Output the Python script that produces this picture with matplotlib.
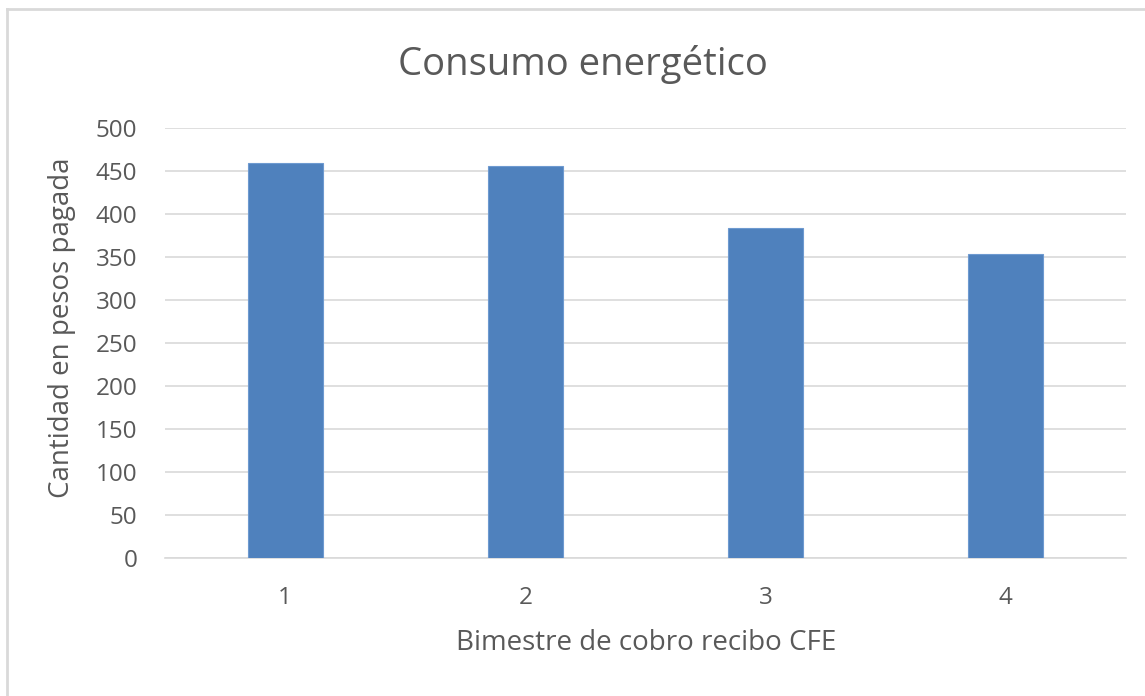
import matplotlib
matplotlib.use("Agg")
import matplotlib.pyplot as plt
from matplotlib.lines import Line2D

categories = ["1", "2", "3", "4"]
values = [459, 456, 384, 354]
yticks = [0, 50, 100, 150, 200, 250, 300, 350, 400, 450, 500]

plt.rcParams['font.family'] = ['Open Sans', 'DejaVu Sans']
txt = '#595959'

W, H = 1145, 696
fig = plt.figure(figsize=(W/100, H/100), dpi=100)
ax = fig.add_axes([165/W, 1-558/H, (1126-165)/W, (558-128)/H])

x = list(range(len(categories)))
ax.bar(x, values, width=75/240, color='#4F81BD', edgecolor='#6E9AD0', linewidth=0.8, zorder=3)
ax.set_xlim(-0.5, len(categories)-0.5)
ax.set_ylim(0, 500)
ax.set_yticks(yticks)
ax.set_xticks(x)
ax.set_xticklabels(categories)
ax.grid(axis='y', color='#D9D9D9', linewidth=1.2, zorder=0)
for s in ['top', 'right', 'left']:
    ax.spines[s].set_visible(False)
ax.spines['bottom'].set_color('#D9D9D9')
ax.spines['bottom'].set_linewidth(1.2)
ax.tick_params(axis='both', length=0, colors=txt, labelsize=17.5)
ax.tick_params(axis='x', pad=20)
ax.tick_params(axis='y', pad=20)

fig.text(646/W, 1-643/H, 'Bimestre de cobro recibo CFE', color=txt, fontsize=20, ha='center', va='center')
fig.text(62/W, 1-328/H, 'Cantidad en pesos pagada', color=txt, fontsize=20, ha='center', va='center', rotation=90)
fig.text(583/W, 1-64/H, 'Consumo energético', color=txt, fontsize=27.5, ha='center', va='center')

# outer frame (left and top visible)
fig.add_artist(Line2D([7/W, 7/W], [0, 1-9/H], transform=fig.transFigure, color='#D9D9D9', linewidth=2))
fig.add_artist(Line2D([7/W, 1], [1-9/H, 1-9/H], transform=fig.transFigure, color='#D9D9D9', linewidth=2))

fig.savefig('out.png', dpi=100)
